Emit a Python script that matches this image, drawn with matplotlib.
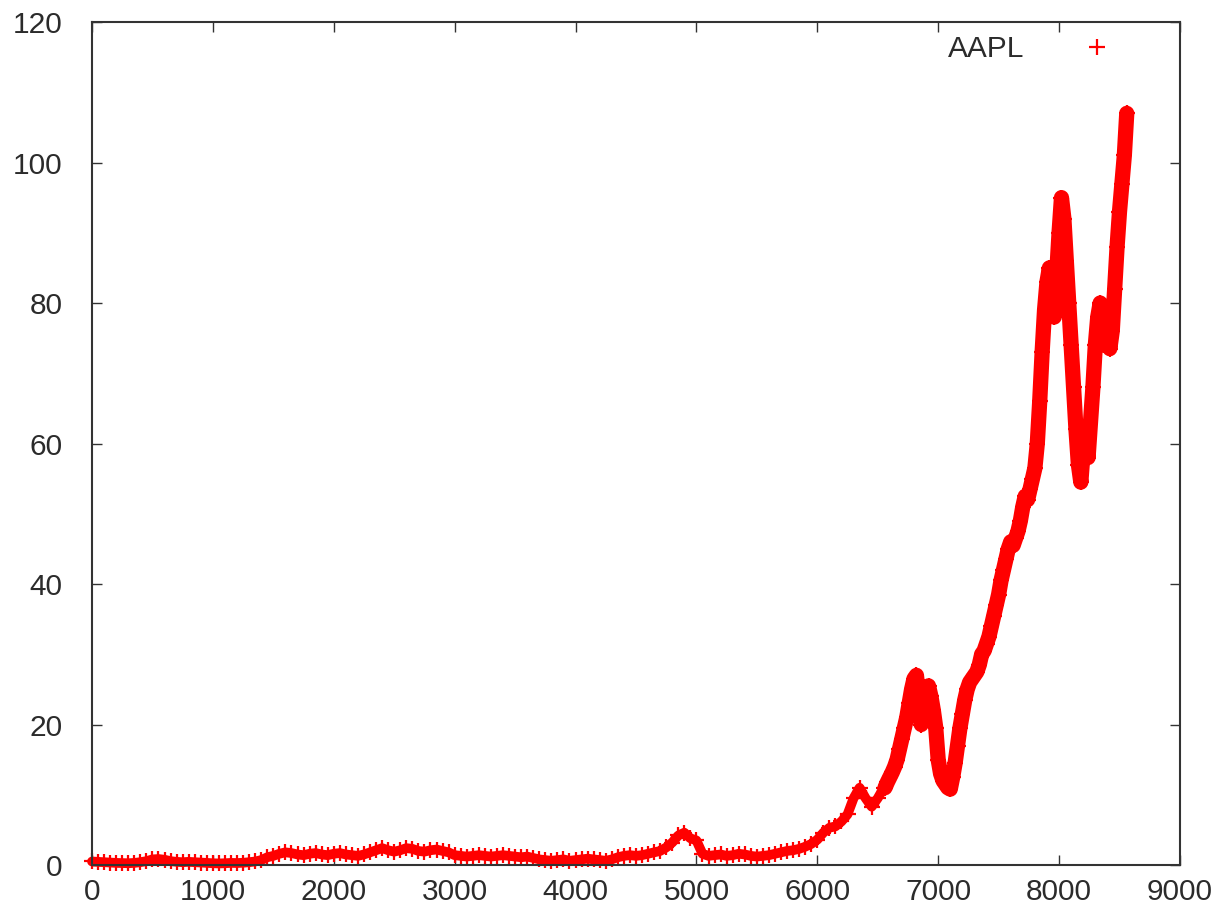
import numpy as np
import matplotlib.pyplot as plt

plt.rcParams['font.family'] = ['Liberation Sans', 'DejaVu Sans']

# trading-day index, sampled every 50 days up to 6550, then every 20 days
early_day = np.arange(0, 6551, 50)
late_day = np.arange(6560, 8561, 20)

early_price = [
    0.50, 0.45, 0.40, 0.35, 0.30, 0.28, 0.25, 0.30, 0.40, 0.55,
    0.80, 0.85, 0.75, 0.55, 0.45, 0.40, 0.45, 0.40, 0.35, 0.30,
    0.25, 0.22, 0.25, 0.30, 0.28, 0.32, 0.40, 0.50, 0.70, 1.10,
    1.30, 1.60, 1.80, 1.70, 1.50, 1.40, 1.60, 1.70, 1.50, 1.40,
    1.60, 1.70, 1.50, 1.40, 1.30, 1.50, 1.80, 2.10, 2.40, 2.10,
    1.90, 2.10, 2.40, 2.30, 2.00, 1.90, 2.10, 2.20, 2.00, 1.80,
    1.40, 1.30, 1.20, 1.30, 1.40, 1.30, 1.20, 1.30, 1.40, 1.30,
    1.20, 1.10, 1.20, 1.00, 0.80, 0.70, 0.60, 0.70, 0.80, 0.60,
    0.70, 0.80, 0.90, 0.80, 0.70, 0.60, 0.80, 1.10, 1.30, 1.40,
    1.30, 1.40, 1.60, 1.80, 2.00, 2.50, 3.20, 4.20, 4.60, 3.80,
    3.50, 1.60, 1.30, 1.40, 1.50, 1.30, 1.40, 1.60, 1.50, 1.30,
    1.20, 1.30, 1.40, 1.60, 1.80, 2.00, 2.10, 2.30, 2.60, 3.00,
    3.60, 4.60, 5.30, 5.50, 6.20, 7.20, 9.50, 11.0, 9.50, 8.30,
    9.50, 11.0,
]

late_price = [
    11.0, 11.8, 12.5, 13.2, 14.0, 15.0, 16.5, 18.0, 19.5, 21.0,
    23.0, 25.0, 26.5, 27.0, 24.0, 20.0, 22.0, 25.0, 25.5, 24.0,
    22.0, 19.5, 15.0, 13.0, 12.0, 11.5, 11.0, 10.8, 12.5, 14.5,
    17.0, 19.5, 21.5, 23.5, 25.0, 26.0, 26.5, 27.0, 27.5, 28.5,
    30.0, 30.5, 31.5, 32.5, 34.0, 35.5, 37.0, 38.5, 40.5, 42.0,
    43.5, 45.0, 46.0, 45.5, 46.5, 47.5, 49.0, 51.0, 52.5, 52.0,
    53.5, 55.0, 56.5, 60.0, 66.0, 73.0, 79.0, 83.0, 85.0, 80.0,
    78.0, 84.0, 90.0, 95.0, 92.0, 86.0, 80.0, 74.0, 68.0, 62.0,
    57.0, 54.5, 59.0, 62.0, 58.0, 63.0, 68.0, 74.0, 78.0, 80.0,
    76.0, 74.0, 76.0, 73.5, 76.0, 82.0, 88.0, 93.0, 97.0, 101.0,
    107.0,
]

day = np.concatenate([early_day, late_day])
price = np.concatenate([early_price, late_price])

red = '#ff0000'
text_color = '#2b2b2b'

fig = plt.figure(figsize=(12.3, 9.21), dpi=100)
ax = fig.add_axes([0.0748, 0.0608, 0.8845, 0.9153])

# thick lines stand in for the overlapping daily points (the later,
# more volatile years form a wider cloud), crosses on top
line_style = dict(color=red, solid_joinstyle='round', solid_capstyle='round',
                  clip_on=False, zorder=2)
ax.plot(early_day, early_price, '-', lw=7, **line_style)
ax.plot(late_day, late_price, '-', lw=11, **line_style)
ax.plot(day, price, '+', color=red, ms=12, mew=1.6, clip_on=False,
        label='AAPL', zorder=2.2)

ax.set_xlim(0, 9000)
ax.set_ylim(0, 120)
ax.set_xticks(np.arange(0, 9001, 1000))
ax.set_yticks(np.arange(0, 121, 20))

for s in ax.spines.values():
    s.set_color('#333333')
    s.set_linewidth(1.5)

ax.tick_params(direction='in', length=7, width=1, color='#333333',
               top=True, right=True, labelsize=21.5, labelcolor=text_color)
ax.tick_params(axis='x', pad=9)
ax.tick_params(axis='y', pad=21)

leg = ax.legend(loc='upper right', bbox_to_anchor=(0.964, 0.984),
                frameon=False, markerfirst=False, handlelength=2.9,
                handletextpad=1.0, borderpad=0, borderaxespad=0,
                fontsize=21.5)
for t in leg.get_texts():
    t.set_color(text_color)

fig.savefig('out.png', dpi=100)
